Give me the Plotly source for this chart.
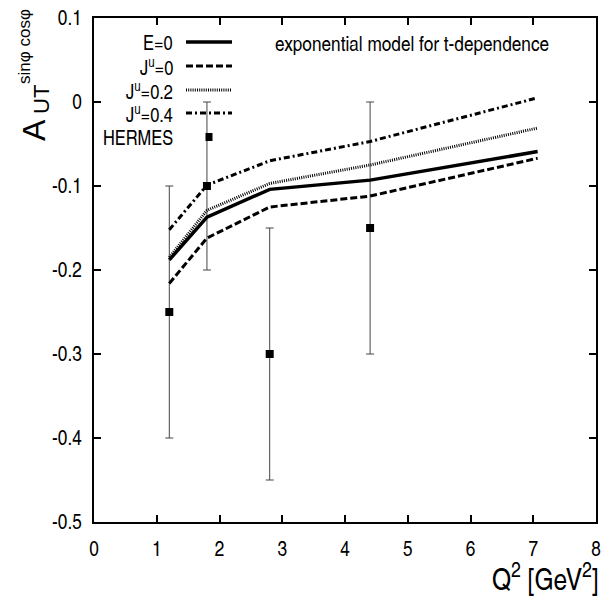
import plotly.graph_objects as go

# ---- data ----
q2_model = [1.2, 1.8, 2.8, 4.4, 7.07]
e0 = [-0.188, -0.137, -0.104, -0.093, -0.059]
ju0 = [-0.216, -0.162, -0.125, -0.112, -0.067]
ju02 = [-0.185, -0.129, -0.097, -0.075, -0.031]
ju04 = [-0.152, -0.099, -0.070, -0.047, 0.005]

q2_data = [1.2, 1.8, 2.8, 4.4]
hermes = [-0.25, -0.10, -0.30, -0.15]
hermes_err = [0.15, 0.10, 0.15, 0.15]

x_ticks = [0, 1, 2, 3, 4, 5, 6, 7, 8]
y_ticks = [0.1, 0, -0.1, -0.2, -0.3, -0.4, -0.5]
y_tick_text = ["0.1", "0", "-0.1", "-0.2", "-0.3", "-0.4", "-0.5"]

FONT = "TeX Gyre Heros Cn, Liberation Sans Narrow, Arial Narrow, Liberation Sans, sans-serif"
FONT_T = "Liberation Sans, Arial, sans-serif"

# page has an 8px body margin; figure sized to fit the 610x611 window
OFF = 8
W, H = 594, 595
# plot area in screenshot pixels
L, R, T, B = 94, 596, 18, 522


def px(x):
    return (x - L) / (R - L)


def py(y):
    return (B - y) / (B - T)


fig = go.Figure()

fig.add_trace(go.Scatter(
    x=q2_data, y=hermes, mode="markers",
    marker=dict(symbol="square", size=8, color="black"),
    error_y=dict(type="data", array=hermes_err, visible=True,
                 color="#444", thickness=1, width=4),
    showlegend=False))

styles = [
    (e0, dict(color="black", width=3.5, dash="solid")),
    (ju0, dict(color="black", width=3, dash="7px,3px")),
    (ju02, dict(color="black", width=3, dash="1px,1.2px")),
    (ju04, dict(color="black", width=3, dash="6px,3px,2px,3px")),
]
for ys, ln in styles:
    fig.add_trace(go.Scatter(x=q2_model, y=ys, mode="lines", line=ln,
                             showlegend=False))

annotations = []
shapes = []

# legend
labels = ["E=0", "J<sup>u</sup>=0", "J<sup>u</sup>=0.2", "J<sup>u</sup>=0.4", "HERMES"]
rows = [42, 66, 90, 113, 137]
for i, (lab, ry) in enumerate(zip(labels, rows)):
    annotations.append(dict(x=px(175), y=py(ry), xref="paper", yref="paper",
                            text=lab, showarrow=False, xanchor="right",
                            yanchor="middle",
                            font=dict(family=FONT, size=20, color="black")))
    if i < 4:
        ln = styles[i][1]
        shapes.append(dict(type="line", xref="paper", yref="paper",
                           x0=px(186), x1=px(232), y0=py(ry), y1=py(ry),
                           line=ln))
    else:
        shapes.append(dict(type="rect", xref="paper", yref="paper",
                           x0=px(205.5), x1=px(212.5), y0=py(133), y1=py(141),
                           fillcolor="black", line=dict(width=0)))

annotations.append(dict(x=px(412), y=py(42), xref="paper", yref="paper",
                        text="exponential model for t-dependence",
                        showarrow=False, xanchor="center", yanchor="middle",
                        font=dict(family=FONT, size=21, color="black")))

# y-axis title pieces
annotations.append(dict(x=px(34), y=py(130), xref="paper", yref="paper",
                        text="A", showarrow=False, textangle=-90,
                        xanchor="center", yanchor="middle",
                        font=dict(family=FONT_T, size=32, color="black")))
annotations.append(dict(x=px(42), y=py(100), xref="paper", yref="paper",
                        text="UT", showarrow=False, textangle=-90,
                        xanchor="center", yanchor="middle",
                        font=dict(family=FONT_T, size=22, color="black")))
annotations.append(dict(x=px(24), y=py(47), xref="paper", yref="paper",
                        text="sinφ cosφ", showarrow=False, textangle=-90,
                        xanchor="center", yanchor="middle",
                        font=dict(family=FONT_T, size=17, color="black")))

# x-axis title
annotations.append(dict(x=px(601), y=py(600), xref="paper", yref="paper",
                        text="Q<sup>2</sup> [GeV<sup>2</sup>]",
                        showarrow=False, xanchor="right", yanchor="bottom",
                        font=dict(family=FONT, size=30, color="black")))

fig.update_layout(
    width=W, height=H,
    margin=dict(l=L - OFF, r=W - (R - OFF), t=T - OFF, b=H - (B - OFF),
                autoexpand=False),
    paper_bgcolor="white", plot_bgcolor="white",
    annotations=annotations, shapes=shapes,
    showlegend=False,
    xaxis=dict(range=[0, 8], tickvals=x_ticks, ticks="inside", ticklen=7,
               tickwidth=1.5, tickcolor="black", showline=True,
               linecolor="black", linewidth=2, mirror="allticks",
               showgrid=False, zeroline=False, ticklabelstandoff=7,
               automargin=False, ticklabeloverflow="allow",
               tickfont=dict(family=FONT, size=21, color="black")),
    yaxis=dict(range=[-0.5, 0.1], tickvals=y_ticks, ticktext=y_tick_text,
               ticks="inside", ticklen=7, tickwidth=1.5, tickcolor="black",
               showline=True, linecolor="black", linewidth=2,
               mirror="allticks", showgrid=False, zeroline=False,
               ticklabelstandoff=6, automargin=False,
               ticklabeloverflow="allow",
               tickfont=dict(family=FONT, size=21, color="black")),
)

fig.write_html("out.html")
